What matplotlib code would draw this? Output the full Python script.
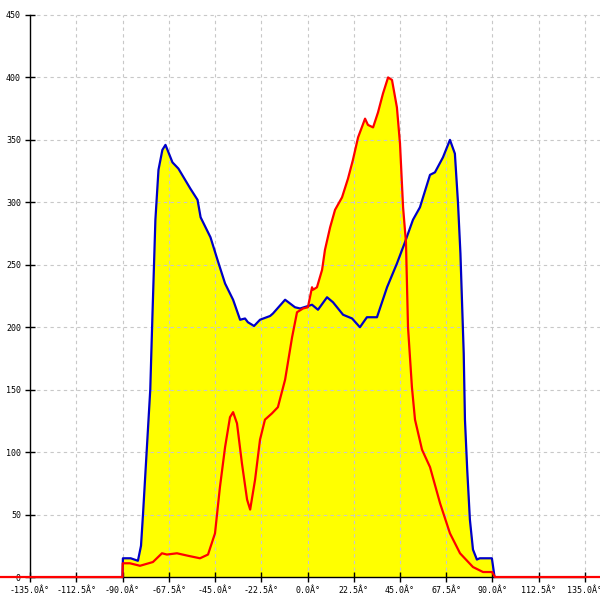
#!/usr/bin/env python3
import matplotlib
matplotlib.use("Agg")
import matplotlib.pyplot as plt
import numpy as np

# angle (deg) / value pairs
blue_x = [-90, -89.8, -86, -82.5, -81, -80, -76.5, -75.5, -74, -72.5, -70.6, -69.1,
          -65.7, -62.8, -57, -53.5, -52, -47.2, -43.8, -40.1, -36.2, -32.8, -30.4,
          -29, -26, -23.1, -18.2, -16.8, -10.9, -6.1, -3.6, 2.2, 5.1, 9.5, 12.4,
          17.3, 21.7, 25.5, 28.9, 33.8, 38.7, 43.5, 47.4, 51.3, 54.7, 59.6, 62,
          65.9, 69.3, 71.7, 73.2, 74.4, 76, 76.6, 77.7, 79, 80.5, 82.4, 83.8, 89.7, 91]
blue_y = [0, 15, 15, 13, 25, 51, 150, 206, 286, 326, 342, 346,
          332, 327, 311, 302, 288, 272, 254, 235, 222, 206, 207,
          204, 201, 206, 209, 211, 222, 216, 215, 218, 214, 224, 220,
          210, 207, 200, 208, 208, 232, 251, 268, 286, 296, 322, 324,
          336, 350, 339, 300, 259, 179, 126, 86, 46, 22, 14, 15, 15, 0]

red_x = [-150, -90, -89.9, -86.4, -81.5, -75.2, -70.8, -68.4, -63.5, -58.1, -52.3,
         -48.4, -45.0, -42.6, -40.1, -37.7, -36.2, -34.3, -31.9, -29.4, -27.9,
         -25.5, -23.1, -20.7, -17.3, -14.4, -10.9, -7.5, -5.1, -2.2, 0.2, 2.2,
         2.7, 4.6, 7.1, 8.5, 11.0, 13.4, 16.8, 19.7, 22.1, 24.6, 28.0, 29.4,
         31.9, 34.3, 36.7, 39.2, 41.1, 43.5, 45.0, 46.5, 47.9, 48.9, 50.8, 52.3,
         55.7, 59.6, 64.5, 69.3, 74.2, 80.5, 85.4, 89.8, 91.2, 150]
red_y = [0, 0, 11, 11, 9, 12, 19, 18, 19, 17, 15,
         18, 35, 72, 104, 128, 132, 123, 91, 62, 54,
         78, 110, 126, 131, 136, 158, 192, 212, 215, 216, 232,
         230, 232, 246, 262, 280, 294, 304, 319, 334, 352, 367, 362,
         360, 372, 387, 400, 398, 376, 347, 296, 268, 200, 152, 126,
         102, 88, 59, 35, 19, 8, 4, 4, 0, 0]

x_ticks = [-135, -112.5, -90, -67.5, -45, -22.5, 0, 22.5, 45, 67.5, 90, 112.5, 135]
x_labels = ["%.1fÂ°" % t for t in x_ticks]
y_ticks = [0, 50, 100, 150, 200, 250, 300, 350, 400, 450]


def main() -> None:
    fig = plt.figure(figsize=(6, 6), dpi=100)
    ax = fig.add_axes([0, 0, 1, 1])

    xmin, xmax = -149.6, 142.3
    ymin, ymax = -18.4, 462
    ax.set_xlim(xmin, xmax)
    ax.set_ylim(ymin, ymax)

    # grid, starting at the axis lines
    grid_kw = dict(colors="#c8c8c8", linestyles=(0, (3, 3)), linewidth=0.8, zorder=1.5)
    ax.hlines(y_ticks[1:], -135, xmax, **grid_kw)
    ax.vlines(x_ticks[1:], 0, 450, **grid_kw)

    ax.fill_between(blue_x, blue_y, 0, color="#ffff00", lw=0, zorder=1)
    ax.fill_between(red_x, red_y, 0, color="#ffff00", lw=0, zorder=1)
    ax.plot(blue_x, blue_y, color="#0000c8", linewidth=1.6, zorder=3)
    ax.plot(red_x, red_y, color="#ff0000", linewidth=1.6, zorder=3.1)

    for s in ("top", "right"):
        ax.spines[s].set_visible(False)
    ax.spines["left"].set_position(("data", -135))
    ax.spines["left"].set_bounds(0, 450)
    ax.spines["bottom"].set_position(("data", 0))
    ax.spines["bottom"].set_bounds(-135, 135)
    for s in ("left", "bottom"):
        ax.spines[s].set_linewidth(1.0)
        ax.spines[s].set_zorder(2.5)

    ax.set_xticks(x_ticks)
    ax.set_xticklabels(x_labels)
    ax.set_yticks(y_ticks)
    ax.tick_params(direction="inout", length=7, width=1, labelsize=6,
                   pad=3)
    for lab in ax.get_xticklabels() + ax.get_yticklabels():
        lab.set_family("DejaVu Sans Mono")
        lab.set_zorder(5)

    fig.savefig("out.png", dpi=100)


if __name__ == '__main__':
    main()
